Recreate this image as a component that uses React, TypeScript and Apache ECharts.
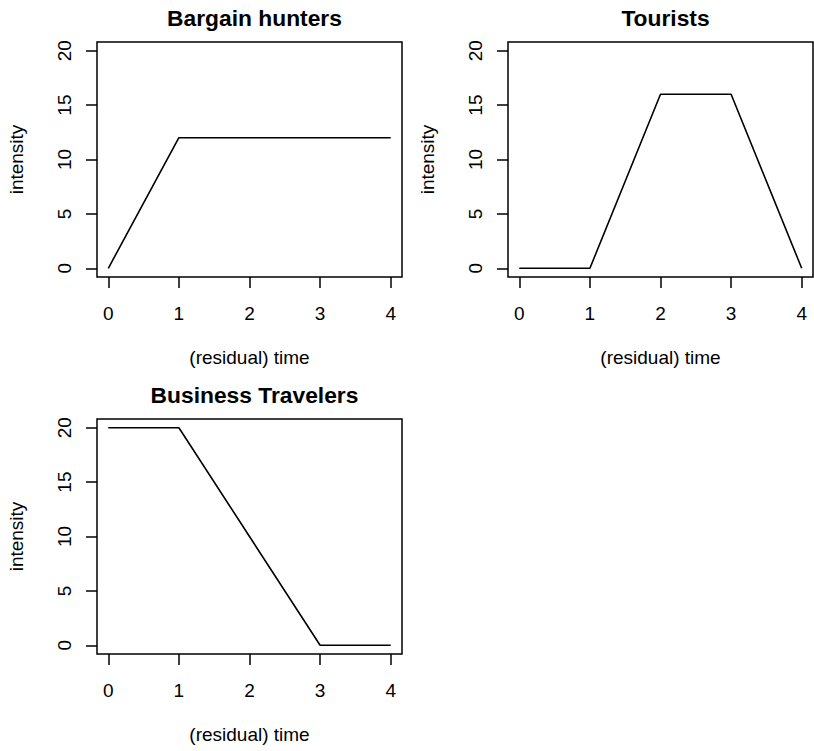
import React, { useEffect, useRef } from "react";
import * as echarts from "echarts";

// Intensity profiles over (residual) time for three customer segments
const timePoints = [0, 1, 2, 3, 4];
const bargainHunters = [0, 12, 12, 12, 12];
const tourists = [0, 0, 16, 16, 0];
const businessTravelers = [20, 20, 10, 0, 0];

const panelTitles = ["Bargain hunters", "Tourists", "Business Travelers"];
const xTicks = [0, 1, 2, 3, 4];
const yTicks = [0, 5, 10, 15, 20];
const xLabel = "(residual) time";
const yLabel = "intensity";

const FONT = "'Liberation Sans', Arial, Helvetica, sans-serif";

const panels = [
  { left: 97, top: 42, width: 305, height: 235 },
  { left: 508, top: 42, width: 305, height: 235 },
  { left: 97, top: 419, width: 305, height: 235 },
];

export default function App() {
  const ref = useRef<HTMLDivElement>(null);

  useEffect(() => {
    if (!ref.current) return;
    const chart = echarts.init(ref.current, undefined, { renderer: "svg" });
    const seriesData = [bargainHunters, tourists, businessTravelers];

    const tickStyle = { color: "#000", width: 1.5 };
    const labelStyle = { fontSize: 19, color: "#000", fontFamily: FONT };

    const option: any = {
      animation: false,
      backgroundColor: "#fff",
      title: panels.map((p, i) => ({
        text: panelTitles[i],
        left: p.left + p.width / 2,
        top: p.top - 41,
        textAlign: "center",
        textStyle: {
          fontSize: 22.8,
          fontWeight: "bold",
          color: "#000",
          fontFamily: FONT,
        },
      })),
      grid: panels.map((p) => ({
        left: p.left,
        top: p.top,
        width: p.width,
        height: p.height,
        show: true,
        borderColor: "#000",
        borderWidth: 1.5,
        backgroundColor: "transparent",
        containLabel: false,
      })),
      xAxis: panels.map((_, i) => ({
        type: "value",
        gridIndex: i,
        min: -0.16,
        max: 4.16,
        name: xLabel,
        nameLocation: "middle",
        nameGap: 71,
        nameTextStyle: { ...labelStyle, verticalAlign: "top" },
        axisLine: { show: false, onZero: false },
        splitLine: { show: false },
        axisTick: {
          show: true,
          inside: false,
          length: 11,
          customValues: xTicks,
          lineStyle: tickStyle,
        },
        axisLabel: {
          ...labelStyle,
          margin: 27,
          customValues: xTicks,
        },
      })),
      yAxis: panels.map((_, i) => ({
        type: "value",
        gridIndex: i,
        min: -0.8,
        max: 20.8,
        name: yLabel,
        nameLocation: "middle",
        nameGap: 71,
        nameRotate: 90,
        nameTextStyle: labelStyle,
        axisLine: { show: false, onZero: false },
        splitLine: { show: false },
        axisTick: {
          show: true,
          inside: false,
          length: 11,
          customValues: yTicks,
          lineStyle: tickStyle,
        },
        axisLabel: {
          ...labelStyle,
          rotate: 90,
          margin: 23,
          customValues: yTicks,
        },
      })),
      series: seriesData.map((vals, i) => ({
        type: "line",
        xAxisIndex: i,
        yAxisIndex: i,
        symbol: "none",
        lineStyle: { color: "#000", width: 1.6 },
        data: timePoints.map((t, k) => [t, vals[k]]),
      })),
    };

    chart.setOption(option);
    return () => chart.dispose();
  }, []);

  return (
    <div
      ref={ref}
      style={{
        position: "fixed",
        left: 0,
        top: 0,
        width: 814,
        height: 751,
        background: "#fff",
      }}
    />
  );
}
